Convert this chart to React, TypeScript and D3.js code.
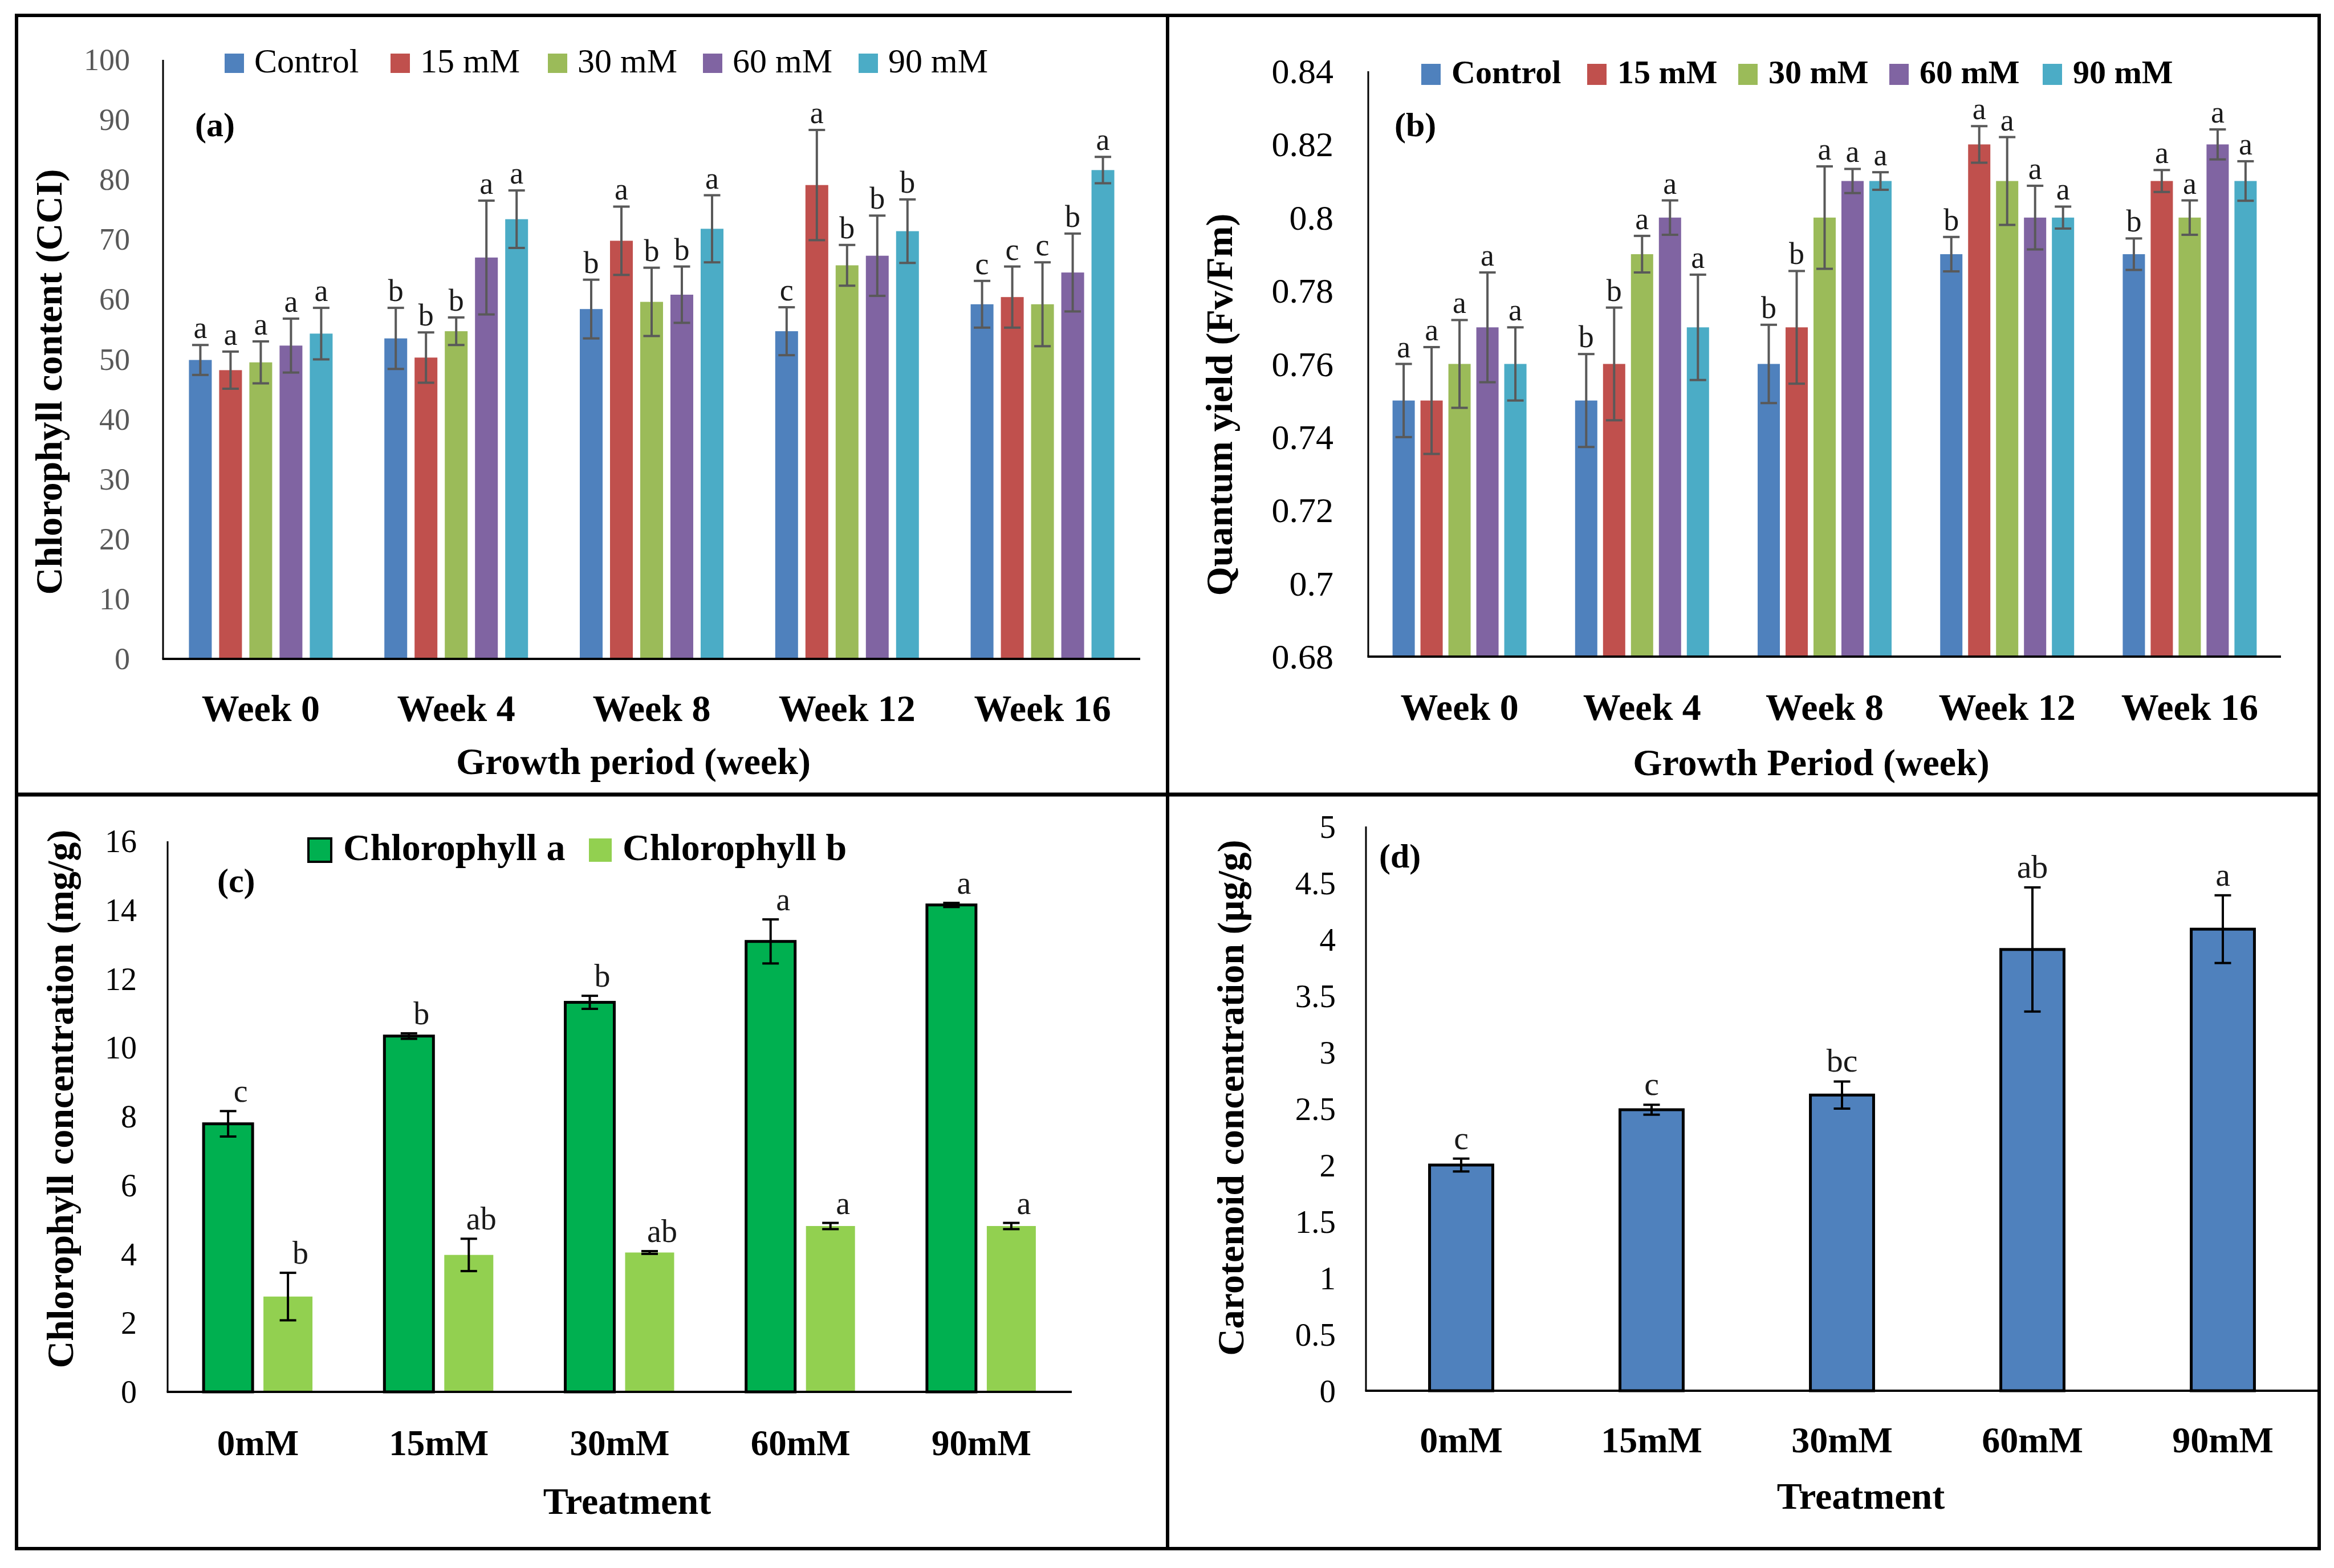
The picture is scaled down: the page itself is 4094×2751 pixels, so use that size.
import React from "react";
import * as d3 from "d3";

// ---------------- DATA ----------------
const weeks = ["Week 0", "Week 4", "Week 8", "Week 12", "Week 16"];
const treatmentsAB = ["Control", "15 mM", "30 mM", "60 mM", "90 mM"];
const seriesColorsAB = ["#4F81BD", "#C0504D", "#9BBB59", "#8064A2", "#4BACC6"];

// (a) Chlorophyll content (CCI): rows = treatments, columns = weeks
const cciMean = [
  [49.9, 53.5, 58.4, 54.7, 59.2],
  [48.2, 50.3, 69.8, 79.1, 60.4],
  [49.5, 54.7, 59.6, 65.7, 59.2],
  [52.3, 67.0, 60.8, 67.3, 64.5],
  [54.3, 73.4, 71.8, 71.4, 81.6],
];
const cciErr = [
  [2.5, 5.1, 4.9, 4.0, 3.9],
  [3.1, 4.2, 5.7, 9.2, 5.1],
  [3.5, 2.3, 5.7, 3.4, 7.0],
  [4.5, 9.5, 4.7, 6.7, 6.5],
  [4.3, 4.8, 5.6, 5.3, 2.2],
];
const cciLetters = [
  ["a", "b", "b", "c", "c"],
  ["a", "b", "a", "a", "c"],
  ["a", "b", "b", "b", "c"],
  ["a", "a", "b", "b", "b"],
  ["a", "a", "a", "b", "a"],
];
const cciTicks = [0, 10, 20, 30, 40, 50, 60, 70, 80, 90, 100];

// (b) Quantum yield (Fv/Fm)
const fvMean = [
  [0.75, 0.75, 0.76, 0.79, 0.79],
  [0.75, 0.76, 0.77, 0.82, 0.81],
  [0.76, 0.79, 0.80, 0.81, 0.80],
  [0.77, 0.80, 0.81, 0.80, 0.82],
  [0.76, 0.77, 0.81, 0.80, 0.81],
];
const fvErr = [
  [0.010, 0.0127, 0.0107, 0.0047, 0.0043],
  [0.0146, 0.0154, 0.0154, 0.005, 0.003],
  [0.012, 0.005, 0.014, 0.012, 0.0047],
  [0.015, 0.0047, 0.0033, 0.0087, 0.0041],
  [0.010, 0.0144, 0.0024, 0.003, 0.0054],
];
const fvLetters = [
  ["a", "b", "b", "b", "b"],
  ["a", "b", "b", "a", "a"],
  ["a", "a", "a", "a", "a"],
  ["a", "a", "a", "a", "a"],
  ["a", "a", "a", "a", "a"],
];
const fvTicks = [0.68, 0.7, 0.72, 0.74, 0.76, 0.78, 0.8, 0.82, 0.84];

// (c) Chlorophyll a / b concentration (mg/g)
const doses = ["0mM", "15mM", "30mM", "60mM", "90mM"];
const chlSeries = ["Chlorophyll a", "Chlorophyll b"];
const chlColors = ["#00B050", "#92D050"];
const chlMean = [
  [7.79, 10.34, 11.32, 13.09, 14.15],
  [2.77, 3.98, 4.05, 4.82, 4.82],
];
const chlErr = [
  [0.37, 0.08, 0.19, 0.64, 0.06],
  [0.69, 0.47, 0.04, 0.09, 0.09],
];
const chlLetters = [
  ["c", "b", "b", "a", "a"],
  ["b", "ab", "ab", "a", "a"],
];
const chlTicks = [0, 2, 4, 6, 8, 10, 12, 14, 16];

// (d) Carotenoid concentration (µg/g)
const carMean = [2.0, 2.49, 2.62, 3.91, 4.09];
const carErr = [0.057, 0.044, 0.12, 0.55, 0.3];
const carLetters = ["c", "c", "bc", "ab", "a"];
const carTicks = [0, 0.5, 1, 1.5, 2, 2.5, 3, 3.5, 4, 4.5, 5];

// ---------------- RENDERING ----------------
const FONT = "'Liberation Serif', 'Times New Roman', serif";

type PanelCfg = {
  categories: string[];
  series: string[];
  colors: string[];
  mean: number[][];
  err: number[][];
  letters: string[][];
  ticks: number[];
  domain: [number, number];
  x0: number; x1: number; yTop: number; yBottom: number;
  outerPad: number; innerPad: number;
  barStroke?: (string | null)[];
  barStrokeWidth?: number;
  errColor: string; errWidth: number; capW: number;
  tickX: number; tickFont: number; tickColor: string;
  catY: number; catFont: number;
  xTitle: string; xTitleX: number; xTitleY: number;
  yTitle: string; yTitleX: number; yTitleY: number;
  titleFont: number;
  tag: string; tagX: number; tagY: number; tagFont: number;
  letterFont: number; letterGap: number; letterDx: number;
  legend?: {
    xs: number[]; textXs: number[]; y: number; w: number; h: number;
    baseline: number; font: number; weight: string;
    stroke?: (string | null)[];
  };
};

function Panel({ c }: { c: PanelCfg }) {
  const xOuter = d3
    .scaleBand<string>()
    .domain(c.categories)
    .range([c.x0, c.x1])
    .paddingInner(c.outerPad)
    .paddingOuter(c.outerPad / 2);
  const xInner = d3
    .scaleBand<string>()
    .domain(c.series)
    .range([0, xOuter.bandwidth()])
    .paddingInner(c.innerPad)
    .paddingOuter(c.innerPad / 2);
  const y = d3.scaleLinear().domain(c.domain).range([c.yBottom, c.yTop]);

  const marks: React.ReactNode[] = [];
  c.series.forEach((s, si) => {
    c.categories.forEach((cat, ci) => {
      const v = c.mean[si][ci];
      const e = c.err[si][ci];
      const bx = (xOuter(cat) as number) + (xInner(s) as number);
      const bw = xInner.bandwidth();
      const cx = bx + bw / 2;
      const stroke = c.barStroke ? c.barStroke[si] : null;
      marks.push(
        <rect
          key={`b-${si}-${ci}`}
          x={bx}
          y={y(v)}
          width={bw}
          height={y(c.domain[0]) - y(v)}
          fill={c.colors[si]}
          stroke={stroke || "none"}
          strokeWidth={stroke ? c.barStrokeWidth : 0}
        />
      );
      const yHi = y(v + e);
      const yLo = y(v - e);
      marks.push(
        <g key={`e-${si}-${ci}`} stroke={c.errColor} strokeWidth={c.errWidth}>
          <line x1={cx} x2={cx} y1={yHi} y2={yLo} />
          <line x1={cx - c.capW / 2} x2={cx + c.capW / 2} y1={yHi} y2={yHi} />
          <line x1={cx - c.capW / 2} x2={cx + c.capW / 2} y1={yLo} y2={yLo} />
        </g>
      );
      marks.push(
        <text
          key={`l-${si}-${ci}`}
          x={cx + c.letterDx}
          y={yHi - c.letterGap}
          textAnchor="middle"
          fontSize={c.letterFont}
          fill="#1a1a1a"
        >
          {c.letters[si][ci]}
        </text>
      );
    });
  });

  return (
    <g fontFamily={FONT}>
      {marks}
      {/* axes */}
      <line x1={c.x0} x2={c.x0} y1={c.yTop} y2={c.yBottom} stroke="#000" strokeWidth={3} />
      <line x1={c.x0 - 1.5} x2={c.x1} y1={c.yBottom} y2={c.yBottom} stroke="#000" strokeWidth={4} />
      {c.ticks.map((t) => (
        <text
          key={`t-${t}`}
          x={c.tickX}
          y={y(t)}
          textAnchor="end"
          dominantBaseline="central"
          fontSize={c.tickFont}
          fill={c.tickColor}
        >
          {String(+t.toFixed(2))}
        </text>
      ))}
      {c.categories.map((cat) => (
        <text
          key={`c-${cat}`}
          x={(xOuter(cat) as number) + xOuter.bandwidth() / 2}
          y={c.catY}
          textAnchor="middle"
          fontSize={c.catFont}
          fontWeight="bold"
          fill="#000"
        >
          {cat}
        </text>
      ))}
      <text x={c.xTitleX} y={c.xTitleY} textAnchor="middle" fontSize={c.titleFont} fontWeight="bold">
        {c.xTitle}
      </text>
      <text
        transform={`translate(${c.yTitleX},${c.yTitleY}) rotate(-90)`}
        textAnchor="middle"
        dominantBaseline="central"
        fontSize={c.titleFont}
        fontWeight="bold"
      >
        {c.yTitle}
      </text>
      <text x={c.tagX} y={c.tagY} fontSize={c.tagFont} fontWeight="bold">
        {c.tag}
      </text>
      {c.legend &&
        c.series.map((s, si) => {
          const L = c.legend!;
          const st = L.stroke ? L.stroke[si] : null;
          return (
            <g key={`lg-${s}`}>
              <rect
                x={L.xs[si]}
                y={L.y}
                width={L.w}
                height={L.h}
                fill={c.colors[si]}
                stroke={st || "none"}
                strokeWidth={st ? 4 : 0}
              />
              <text x={L.textXs[si]} y={L.baseline} fontSize={L.font} fontWeight={L.weight} fill="#000">
                {s}
              </text>
            </g>
          );
        })}
    </g>
  );
}

const legendA = [394, 685, 961, 1233, 1506];
const legendB = [2493, 2784, 3049, 3314, 3583];

const cfgA: PanelCfg = {
  categories: weeks, series: treatmentsAB, colors: seriesColorsAB,
  mean: cciMean, err: cciErr, letters: cciLetters, ticks: cciTicks, domain: [0, 100],
  x0: 286, x1: 2000, yTop: 105, yBottom: 1156, outerPad: 0.227, innerPad: 0.245,
  errColor: "#595959", errWidth: 4, capW: 29,
  tickX: 228, tickFont: 54, tickColor: "#595959",
  catY: 1265, catFont: 66,
  xTitle: "Growth period (week)", xTitleX: 1111, xTitleY: 1358,
  yTitle: "Chlorophyll content (CCI)", yTitleX: 85, yTitleY: 670, titleFont: 66,
  tag: "(a)", tagX: 342, tagY: 239, tagFont: 60,
  letterFont: 54, letterGap: 12, letterDx: 0,
  legend: { xs: legendA, textXs: legendA.map((v) => v + 52), y: 94, w: 34, h: 34, baseline: 127, font: 60, weight: "normal" },
};

const cfgB: PanelCfg = {
  categories: weeks, series: treatmentsAB, colors: seriesColorsAB,
  mean: fvMean, err: fvErr, letters: fvLetters, ticks: fvTicks, domain: [0.68, 0.84],
  x0: 2400, x1: 4001, yTop: 125, yBottom: 1152, outerPad: 0.235, innerPad: 0.204,
  errColor: "#595959", errWidth: 4, capW: 29,
  tickX: 2339, tickFont: 62, tickColor: "#000",
  catY: 1263, catFont: 66,
  xTitle: "Growth Period (week)", xTitleX: 3177, xTitleY: 1360,
  yTitle: "Quantum yield (Fv/Fm)", yTitleX: 2138, yTitleY: 710, titleFont: 66,
  tag: "(b)", tagX: 2446, tagY: 239, tagFont: 60,
  letterFont: 54, letterGap: 12, letterDx: 0,
  legend: { xs: legendB, textXs: legendB.map((v) => v + 53), y: 112, w: 34, h: 37, baseline: 146, font: 58, weight: "bold" },
};

const cfgC: PanelCfg = {
  categories: doses, series: chlSeries, colors: chlColors,
  mean: chlMean, err: chlErr, letters: chlLetters, ticks: chlTicks, domain: [0, 16],
  x0: 294, x1: 1880, yTop: 1476, yBottom: 2442, outerPad: 0.338, innerPad: 0.181,
  barStroke: ["#000", null], barStrokeWidth: 5,
  errColor: "#000", errWidth: 4, capW: 29,
  tickX: 240, tickFont: 56, tickColor: "#000",
  catY: 2553, catFont: 63,
  xTitle: "Treatment", xTitleX: 1100, xTitleY: 2656,
  yTitle: "Chlorophyll concentration (mg/g)", yTitleX: 105, yTitleY: 1928, titleFont: 66,
  tag: "(c)", tagX: 381, tagY: 1565, tagFont: 60,
  letterFont: 56, letterGap: 16, letterDx: 22,
  legend: { xs: [541, 1033], textXs: [602, 1092], y: 1471, w: 40, h: 41, baseline: 1509, font: 66, weight: "bold", stroke: ["#000", null] },
};

const cfgD: PanelCfg = {
  categories: doses, series: ["Carotenoid"], colors: ["#4F81BD"],
  mean: [carMean], err: [carErr], letters: [carLetters], ticks: carTicks, domain: [0, 5],
  x0: 2396, x1: 4066, yTop: 1450, yBottom: 2440, outerPad: 0.668, innerPad: 0,
  barStroke: ["#000"], barStrokeWidth: 5,
  errColor: "#000", errWidth: 4, capW: 29,
  tickX: 2343, tickFont: 57, tickColor: "#000",
  catY: 2548, catFont: 64,
  xTitle: "Treatment", xTitleX: 3264, xTitleY: 2647,
  yTitle: "Carotenoid concentration (µg/g)", yTitleX: 2158, yTitleY: 1926, titleFont: 66,
  tag: "(d)", tagX: 2419, tagY: 1522, tagFont: 60,
  letterFont: 58, letterGap: 17, letterDx: 0,
};

export default function App() {
  return (
    <svg
      width={4094}
      height={2751}
      style={{ position: "absolute", left: 0, top: 0, display: "block" }}
      xmlns="http://www.w3.org/2000/svg"
    >
      <rect x={0} y={0} width={4094} height={2751} fill="#fff" />
      <Panel c={cfgA} />
      <Panel c={cfgB} />
      <Panel c={cfgC} />
      <Panel c={cfgD} />
      {/* frame */}
      <rect x={29} y={27} width={4068 - 29} height={2717 - 27} fill="none" stroke="#000" strokeWidth={6} />
      <line x1={2048} x2={2048} y1={27} y2={2717} stroke="#000" strokeWidth={6} />
      <line x1={29} x2={4068} y1={1394} y2={1394} stroke="#000" strokeWidth={7} />
    </svg>
  );
}
